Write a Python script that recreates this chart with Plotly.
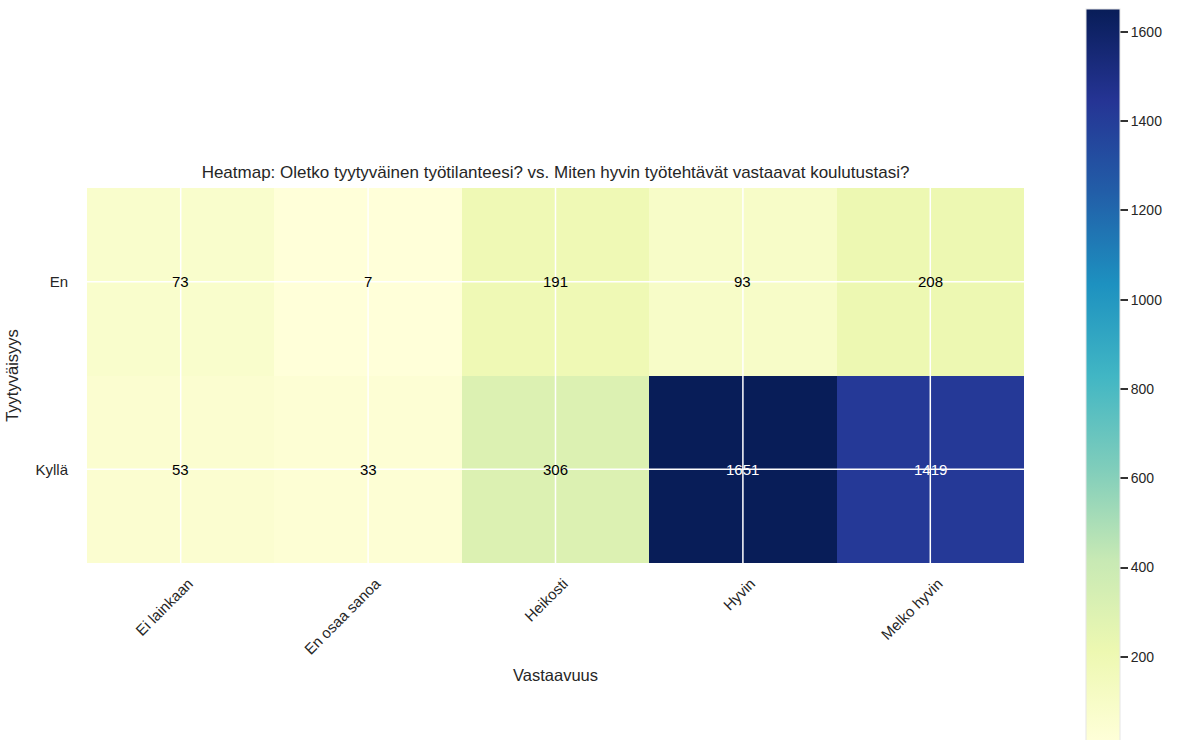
import plotly.graph_objects as go

# ---- data ----
x_categories = ["Ei lainkaan", "En osaa sanoa", "Heikosti", "Hyvin", "Melko hyvin"]
y_categories = ["En", "Kyllä"]
values_en = [73, 7, 191, 93, 208]
values_kylla = [53, 33, 306, 1651, 1419]
colorbar_ticks = [200, 400, 600, 800, 1000, 1200, 1400, 1600]

title_text = "Heatmap: Oletko tyytyväinen työtilanteesi? vs. Miten hyvin työtehtävät vastaavat koulutustasi?"
x_title = "Vastaavuus"
y_title = "Tyytyväisyys"

z = [values_en, values_kylla]

ylgnbu = ["#ffffd9", "#edf8b1", "#c7e9b4", "#7fcdbb", "#41b6c4",
          "#1d91c0", "#225ea8", "#253494", "#081d58"]
colorscale = [[i / (len(ylgnbu) - 1), c] for i, c in enumerate(ylgnbu)]

FONT = "Liberation Sans, Arial, sans-serif"
TXT = "#262626"

W, H = 1179, 740
L, R, T, B = 87, 1024, 188, 563   # plot area edges in pixels
zmin = min(min(r) for r in z)
zmax = max(max(r) for r in z)

fig = go.Figure()
fig.add_trace(go.Heatmap(
    z=z, x=x_categories, y=y_categories,
    colorscale=colorscale, zmin=zmin, zmax=zmax,
    hoverinfo="x+y+z",
    colorbar=dict(
        x=(1086 - L) / (R - L), xanchor="left", xpad=0,
        y=(B - 376) / (B - T), yanchor="middle", ypad=0,
        lenmode="pixels", len=734,
        thickness=34, thicknessmode="pixels",
        outlinewidth=1, outlinecolor="#e6e6e6",
        ticks="outside", ticklen=8, tickwidth=1.5, tickcolor="#333333",
        tickvals=colorbar_ticks,
        tickfont=dict(family=FONT, size=14, color=TXT),
    ),
))

# white grid lines on top of the cells, at category centres
for c in x_categories:
    fig.add_shape(type="line", xref="x", yref="y domain", x0=c, x1=c, y0=0, y1=1,
                  line=dict(color="white", width=1.5), layer="above")
for c in y_categories:
    fig.add_shape(type="line", xref="x domain", yref="y", x0=0, x1=1, y0=c, y1=c,
                  line=dict(color="white", width=1.5), layer="above")

# cell value labels
thresh = (zmin + zmax) / 2
for yi, row in zip(y_categories, z):
    for xi, v in zip(x_categories, row):
        fig.add_annotation(x=xi, y=yi, text=str(v), showarrow=False,
                           font=dict(family=FONT, size=15,
                                     color="white" if v > thresh else "black"))

fig.update_layout(
    width=W, height=H,
    paper_bgcolor="white", plot_bgcolor="white",
    margin=dict(l=L, r=W - R, t=T, b=H - B, autoexpand=False),
    font=dict(family=FONT, color=TXT),
    title=dict(text=title_text, x=(L + R) / 2 / W, xanchor="center",
               y=1 - 172 / H, yanchor="middle",
               font=dict(family=FONT, size=17, color=TXT)),
    xaxis=dict(
        title=dict(text=x_title, font=dict(family=FONT, size=16.5, color=TXT), standoff=12),
        tickangle=-45, tickfont=dict(family=FONT, size=15, color=TXT),
        ticklabelshift=8,
        showgrid=False, zeroline=False, showline=False,
        ticks="outside", ticklen=5, tickcolor="rgba(0,0,0,0)",
    ),
    yaxis=dict(
        title=dict(text=y_title, font=dict(family=FONT, size=16.5, color=TXT), standoff=12),
        autorange="reversed",
        tickfont=dict(family=FONT, size=15, color=TXT),
        showgrid=False, zeroline=False, showline=False,
        ticks="outside", ticklen=15, tickcolor="rgba(0,0,0,0)",
    ),
)

fig.write_html("out.html", config={"displayModeBar": False},
               post_script="document.body.style.margin='0';document.body.style.overflow='hidden';")
